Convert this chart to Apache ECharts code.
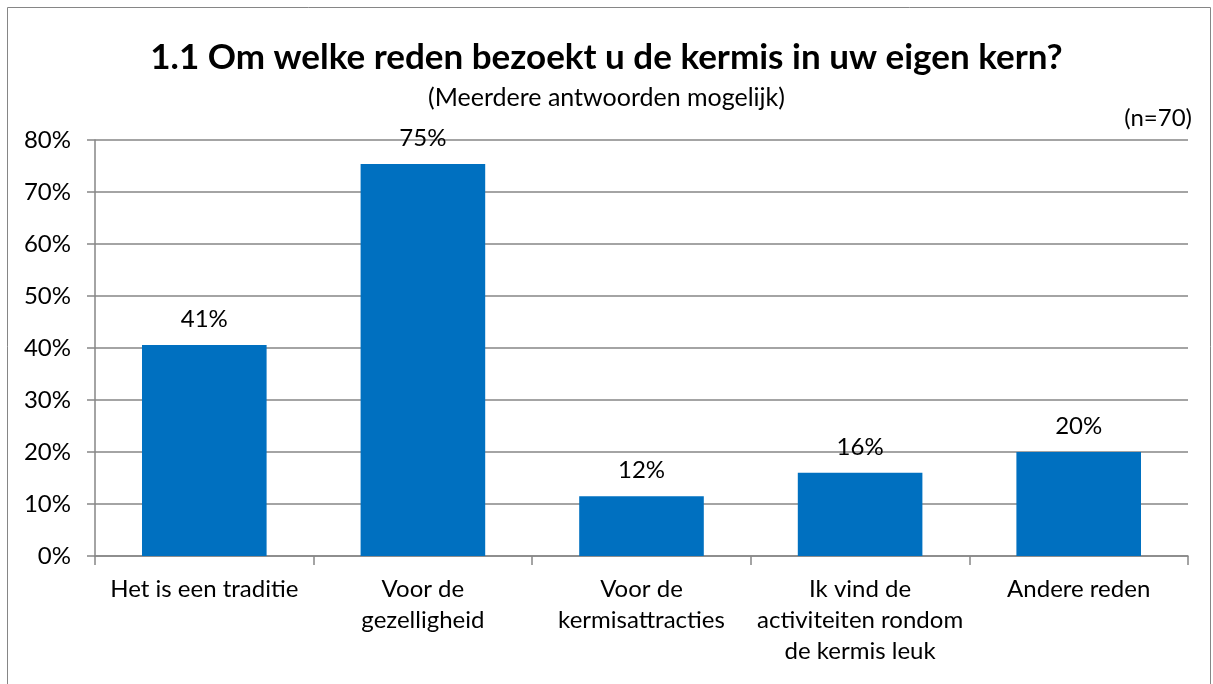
<!DOCTYPE html>
<html>
<head>
<meta charset="utf-8">
<script src="https://cdn.jsdelivr.net/npm/echarts@6/dist/echarts.min.js"></script>
<style>
  html, body { margin: 0; padding: 0; background: #fff; }
  #main { width: 1213px; height: 684px; }
</style>
</head>
<body>
<div id="main"></div>
<script>
// data
const categories = [
  'Het is een traditie',
  'Voor de\ngezelligheid',
  'Voor de\nkermisattracties',
  'Ik vind de\nactiviteiten rondom\nde kermis leuk',
  'Andere reden'
];
const values = [40.6, 75.4, 11.5, 16.0, 20.0];
const yTicks = { min: 0, max: 80, interval: 10 };

const FONT = 'Lato, "Open Sans", sans-serif';
const GRAY = '#868686';

const chart = echarts.init(document.getElementById('main'));
chart.setOption({
  animation: false,
  textStyle: { fontFamily: FONT },
  title: [
    {
      text: '1.1 Om welke reden bezoekt u de kermis in uw eigen kern?',
      left: 'center',
      top: 35,
      textStyle: { fontSize: 35, fontWeight: 'bold', color: '#000', fontFamily: FONT }
    },
    {
      text: '(Meerdere antwoorden mogelijk)',
      left: 'center',
      top: 80,
      textStyle: { fontSize: 25, fontWeight: 'normal', color: '#000', fontFamily: FONT }
    },
    {
      text: '(n=70)',
      right: 16,
      top: 101,
      textStyle: { fontSize: 24, fontWeight: 'normal', color: '#000', fontFamily: FONT }
    }
  ],
  graphic: [
    {
      type: 'rect',
      shape: { x: 7.5, y: 7.5, width: 1203, height: 700 },
      style: { fill: null, stroke: GRAY, lineWidth: 1 },
      silent: true
    }
  ],
  grid: { left: 95, right: 25, top: 140, bottom: 128 },
  xAxis: {
    type: 'category',
    data: categories,
    axisLine: { lineStyle: { color: GRAY, width: 1.5 } },
    axisTick: { show: true, length: 9, lineStyle: { color: GRAY, width: 1.5 } },
    axisLabel: { color: '#000', fontSize: 24, lineHeight: 31, margin: 18, interval: 0, fontFamily: FONT }
  },
  yAxis: {
    type: 'value',
    min: yTicks.min,
    max: yTicks.max,
    interval: yTicks.interval,
    axisLine: { show: true, lineStyle: { color: GRAY, width: 1.5 } },
    axisTick: { show: true, length: 8, inside: false, lineStyle: { color: GRAY, width: 1.5 } },
    axisLabel: { color: '#000', fontSize: 24, margin: 24, formatter: '{value}%', fontFamily: FONT },
    splitLine: { show: true, lineStyle: { color: GRAY, width: 1.5 } }
  },
  series: [
    {
      type: 'bar',
      data: values,
      barWidth: '57%',
      itemStyle: { color: '#0070C0' },
      label: {
        show: true,
        position: 'top',
        distance: 14,
        color: '#000',
        fontSize: 24,
        fontFamily: FONT,
        formatter: p => Math.round(p.value) + '%'
      }
    }
  ]
});
</script>
</body>
</html>
